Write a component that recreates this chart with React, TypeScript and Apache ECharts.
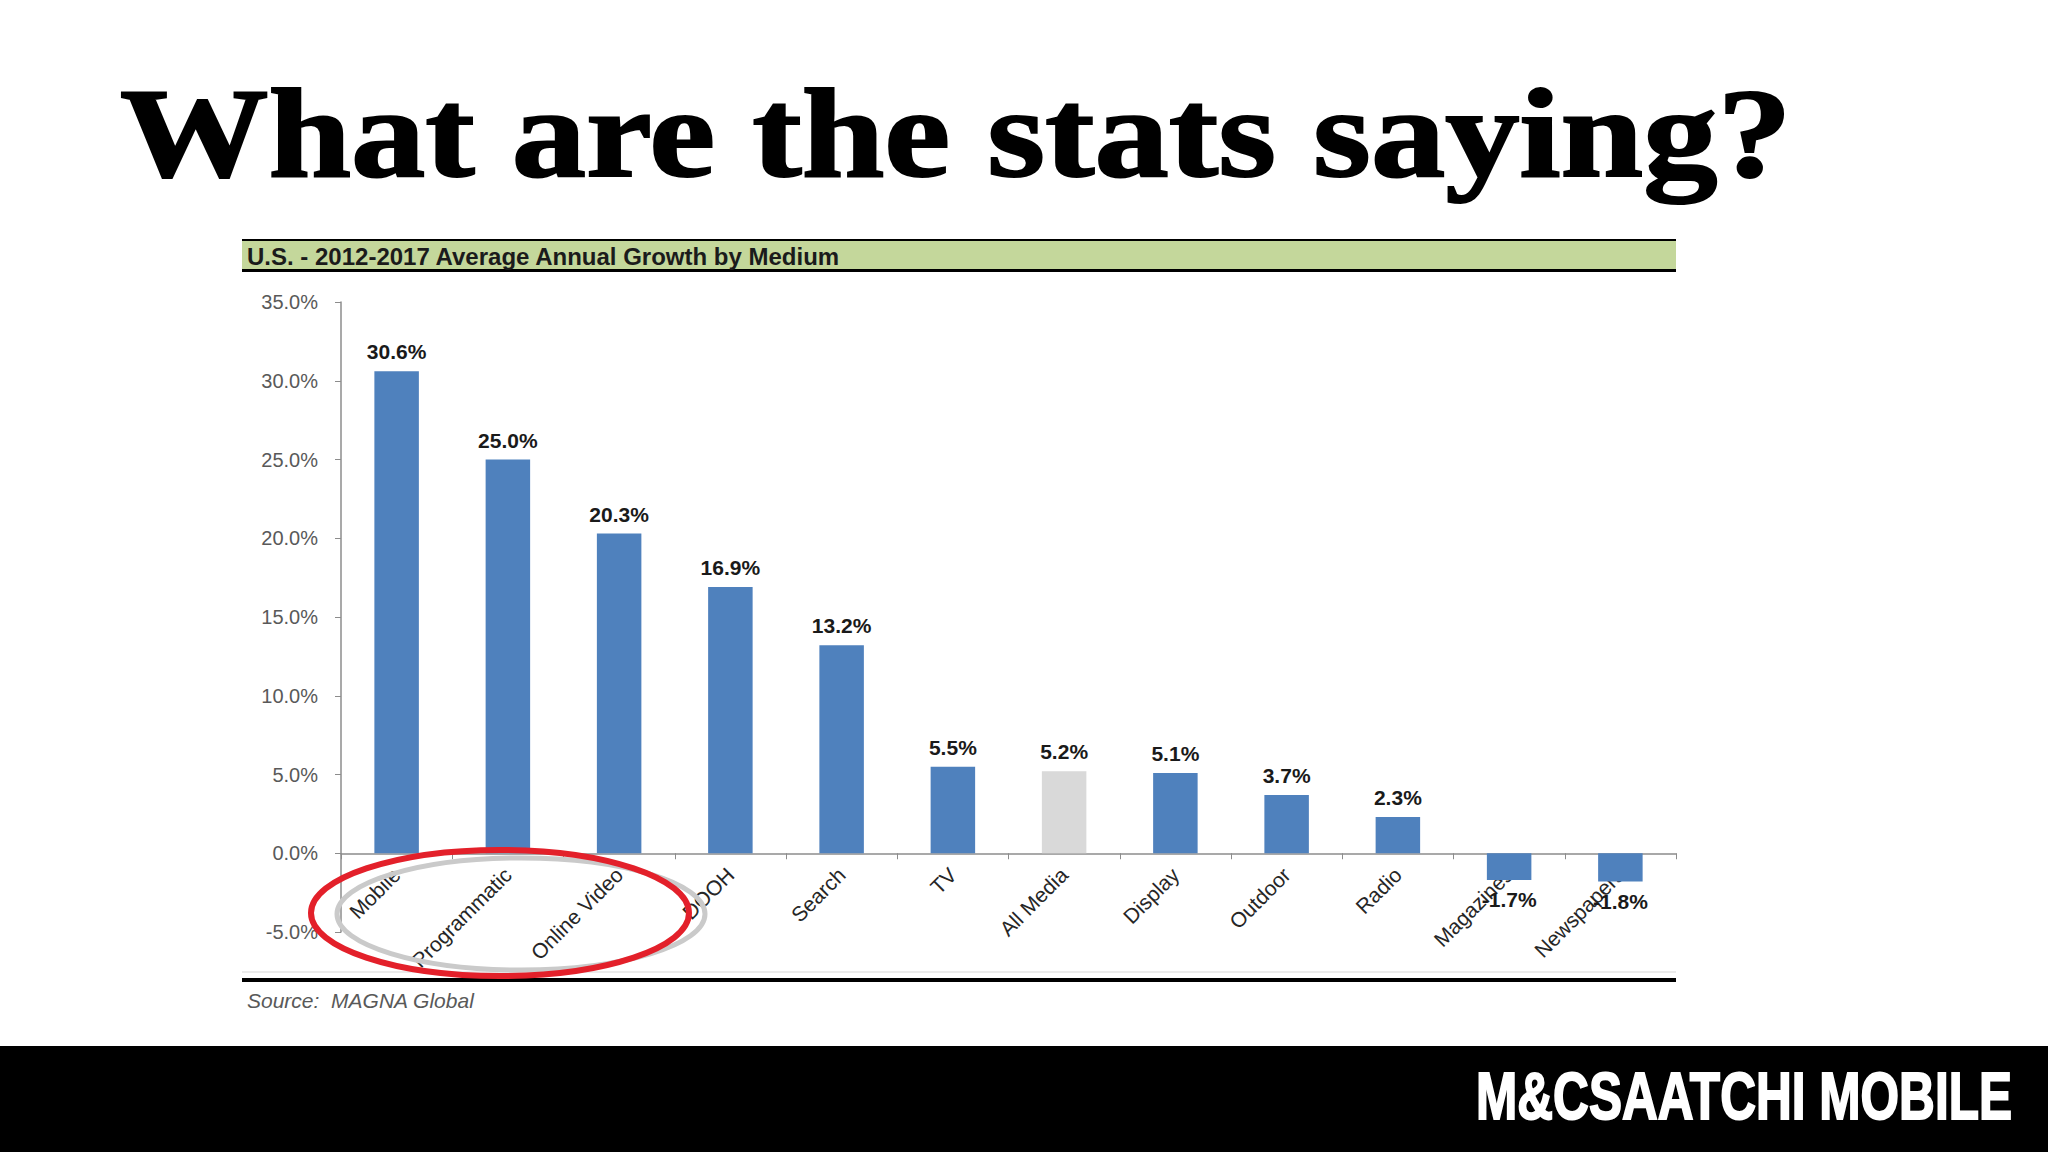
import React, { useEffect, useRef } from "react";
import * as echarts from "echarts";

const categories = ["Mobile", "Programmatic", "Online Video", "DOOH", "Search", "TV", "All Media", "Display", "Outdoor", "Radio", "Magazines", "Newspapers"];
const growth = [30.6, 25.0, 20.3, 16.9, 13.2, 5.5, 5.2, 5.1, 3.7, 2.3, -1.7, -1.8];
const highlightCategory = "All Media";
const yTicks = { min: -5, max: 35, interval: 5 };
const pageTitle = "What are the stats saying?";
const chartHeading = "U.S. - 2012-2017 Average Annual Growth by Medium";
const sourceNote = "Source:  MAGNA Global";
const brand = "M&CSAATCHI MOBILE";

const BLUE = "#4f81bd";
const GREY_BAR = "#d9d9d9";

const GRID_TOP = 302;
const GRID_HEIGHT = 630;

export default function App() {
  const ref = useRef<HTMLDivElement>(null);

  useEffect(() => {
    if (!ref.current) return;
    const chart = echarts.init(ref.current, null, { renderer: "svg" });

    const data = growth.map((v, i) => ({
      value: v,
      itemStyle: { color: categories[i] === highlightCategory ? GREY_BAR : BLUE },
      label: { position: v < 0 ? "bottom" : "top" },
    }));

    // distance between grid bottom (min) and zero line, so the category axis sits on zero
    const zeroOffset = (GRID_HEIGHT * (0 - yTicks.min)) / (yTicks.max - yTicks.min);

    chart.setOption({
      animation: false,
      backgroundColor: "#ffffff",
      grid: { left: 341, top: GRID_TOP, width: 1335, height: GRID_HEIGHT, containLabel: false, outerBoundsMode: "none" },
      xAxis: {
        type: "category",
        data: categories,
        offset: -zeroOffset,
        axisLine: { onZero: false, lineStyle: { color: "#8c8c8c", width: 1.5 } },
        axisTick: { show: true, length: 6, lineStyle: { color: "#8c8c8c" } },
        axisLabel: {
          interval: 0,
          rotate: 45,
          margin: 18,
          fontSize: 21,
          color: "#262626",
          fontFamily: "Liberation Sans",
        },
      },
      yAxis: {
        type: "value",
        min: yTicks.min,
        max: yTicks.max,
        interval: yTicks.interval,
        axisLine: { show: true, lineStyle: { color: "#8c8c8c", width: 1.5 } },
        axisTick: { show: true, length: 6, lineStyle: { color: "#8c8c8c" } },
        splitLine: { show: false },
        axisLabel: {
          margin: 23,
          fontSize: 20,
          color: "#595959",
          fontFamily: "Liberation Sans",
          formatter: (v: number) => v.toFixed(1) + "%",
        },
      },
      series: [
        {
          type: "bar",
          data,
          barWidth: "40%",
          label: {
            show: true,
            distance: 9,
            fontSize: 21,
            fontWeight: "bold",
            color: "#1a1a1a",
            fontFamily: "Liberation Sans",
            formatter: (p: any) => Number(p.value).toFixed(1) + "%",
          },
        },
      ],
      graphic: [
        {
          type: "text",
          x: 120,
          y: 133,
          scaleX: 1.16,
          style: {
            text: pageTitle,
            font: "bold 128px 'Liberation Serif'",
            fill: "#000000",
            stroke: "#000000",
            lineWidth: 2,
            verticalAlign: "middle",
            align: "left",
          },
        },
        { type: "rect", shape: { x: 242, y: 240, width: 1434, height: 30 }, style: { fill: "#c4d79b" } },
        { type: "line", shape: { x1: 242, y1: 240, x2: 1676, y2: 240 }, style: { stroke: "#000", lineWidth: 2 } },
        { type: "line", shape: { x1: 242, y1: 270.5, x2: 1676, y2: 270.5 }, style: { stroke: "#000", lineWidth: 3 } },
        {
          type: "text",
          x: 247,
          y: 256,
          style: {
            text: chartHeading,
            font: "bold 24px 'Liberation Sans'",
            fill: "#1b1b1b",
            verticalAlign: "middle",
          },
        },
        { type: "line", shape: { x1: 242, y1: 972, x2: 1676, y2: 972 }, style: { stroke: "#e4e4e4", lineWidth: 1.5 } },
        { type: "line", shape: { x1: 242, y1: 980, x2: 1676, y2: 980 }, style: { stroke: "#000", lineWidth: 4 } },
        {
          type: "text",
          x: 247,
          y: 1000,
          style: {
            text: sourceNote,
            font: "italic 21px 'Liberation Sans'",
            fill: "#595959",
            verticalAlign: "middle",
          },
        },
        {
          type: "ellipse",
          z: 100,
          shape: { cx: 521, cy: 914, rx: 184, ry: 56 },
          style: { fill: "none", stroke: "#cacaca", lineWidth: 5 },
        },
        {
          type: "ellipse",
          z: 101,
          shape: { cx: 500, cy: 913, rx: 189, ry: 63 },
          style: { fill: "none", stroke: "#e3202a", lineWidth: 6 },
        },
        { type: "rect", shape: { x: 0, y: 1046, width: 2048, height: 106 }, style: { fill: "#000000" } },
        {
          type: "text",
          x: 1476,
          y: 1096,
          scaleX: 0.74,
          style: {
            text: brand,
            font: "bold 67px 'Liberation Sans'",
            fill: "#ffffff",
            stroke: "#ffffff",
            lineWidth: 2,
            verticalAlign: "middle",
          },
        },
      ],
    });

    return () => chart.dispose();
  }, []);

  return (
    <div
      ref={ref}
      style={{ position: "fixed", left: 0, top: 0, width: 2048, height: 1152, background: "#fff" }}
    />
  );
}
